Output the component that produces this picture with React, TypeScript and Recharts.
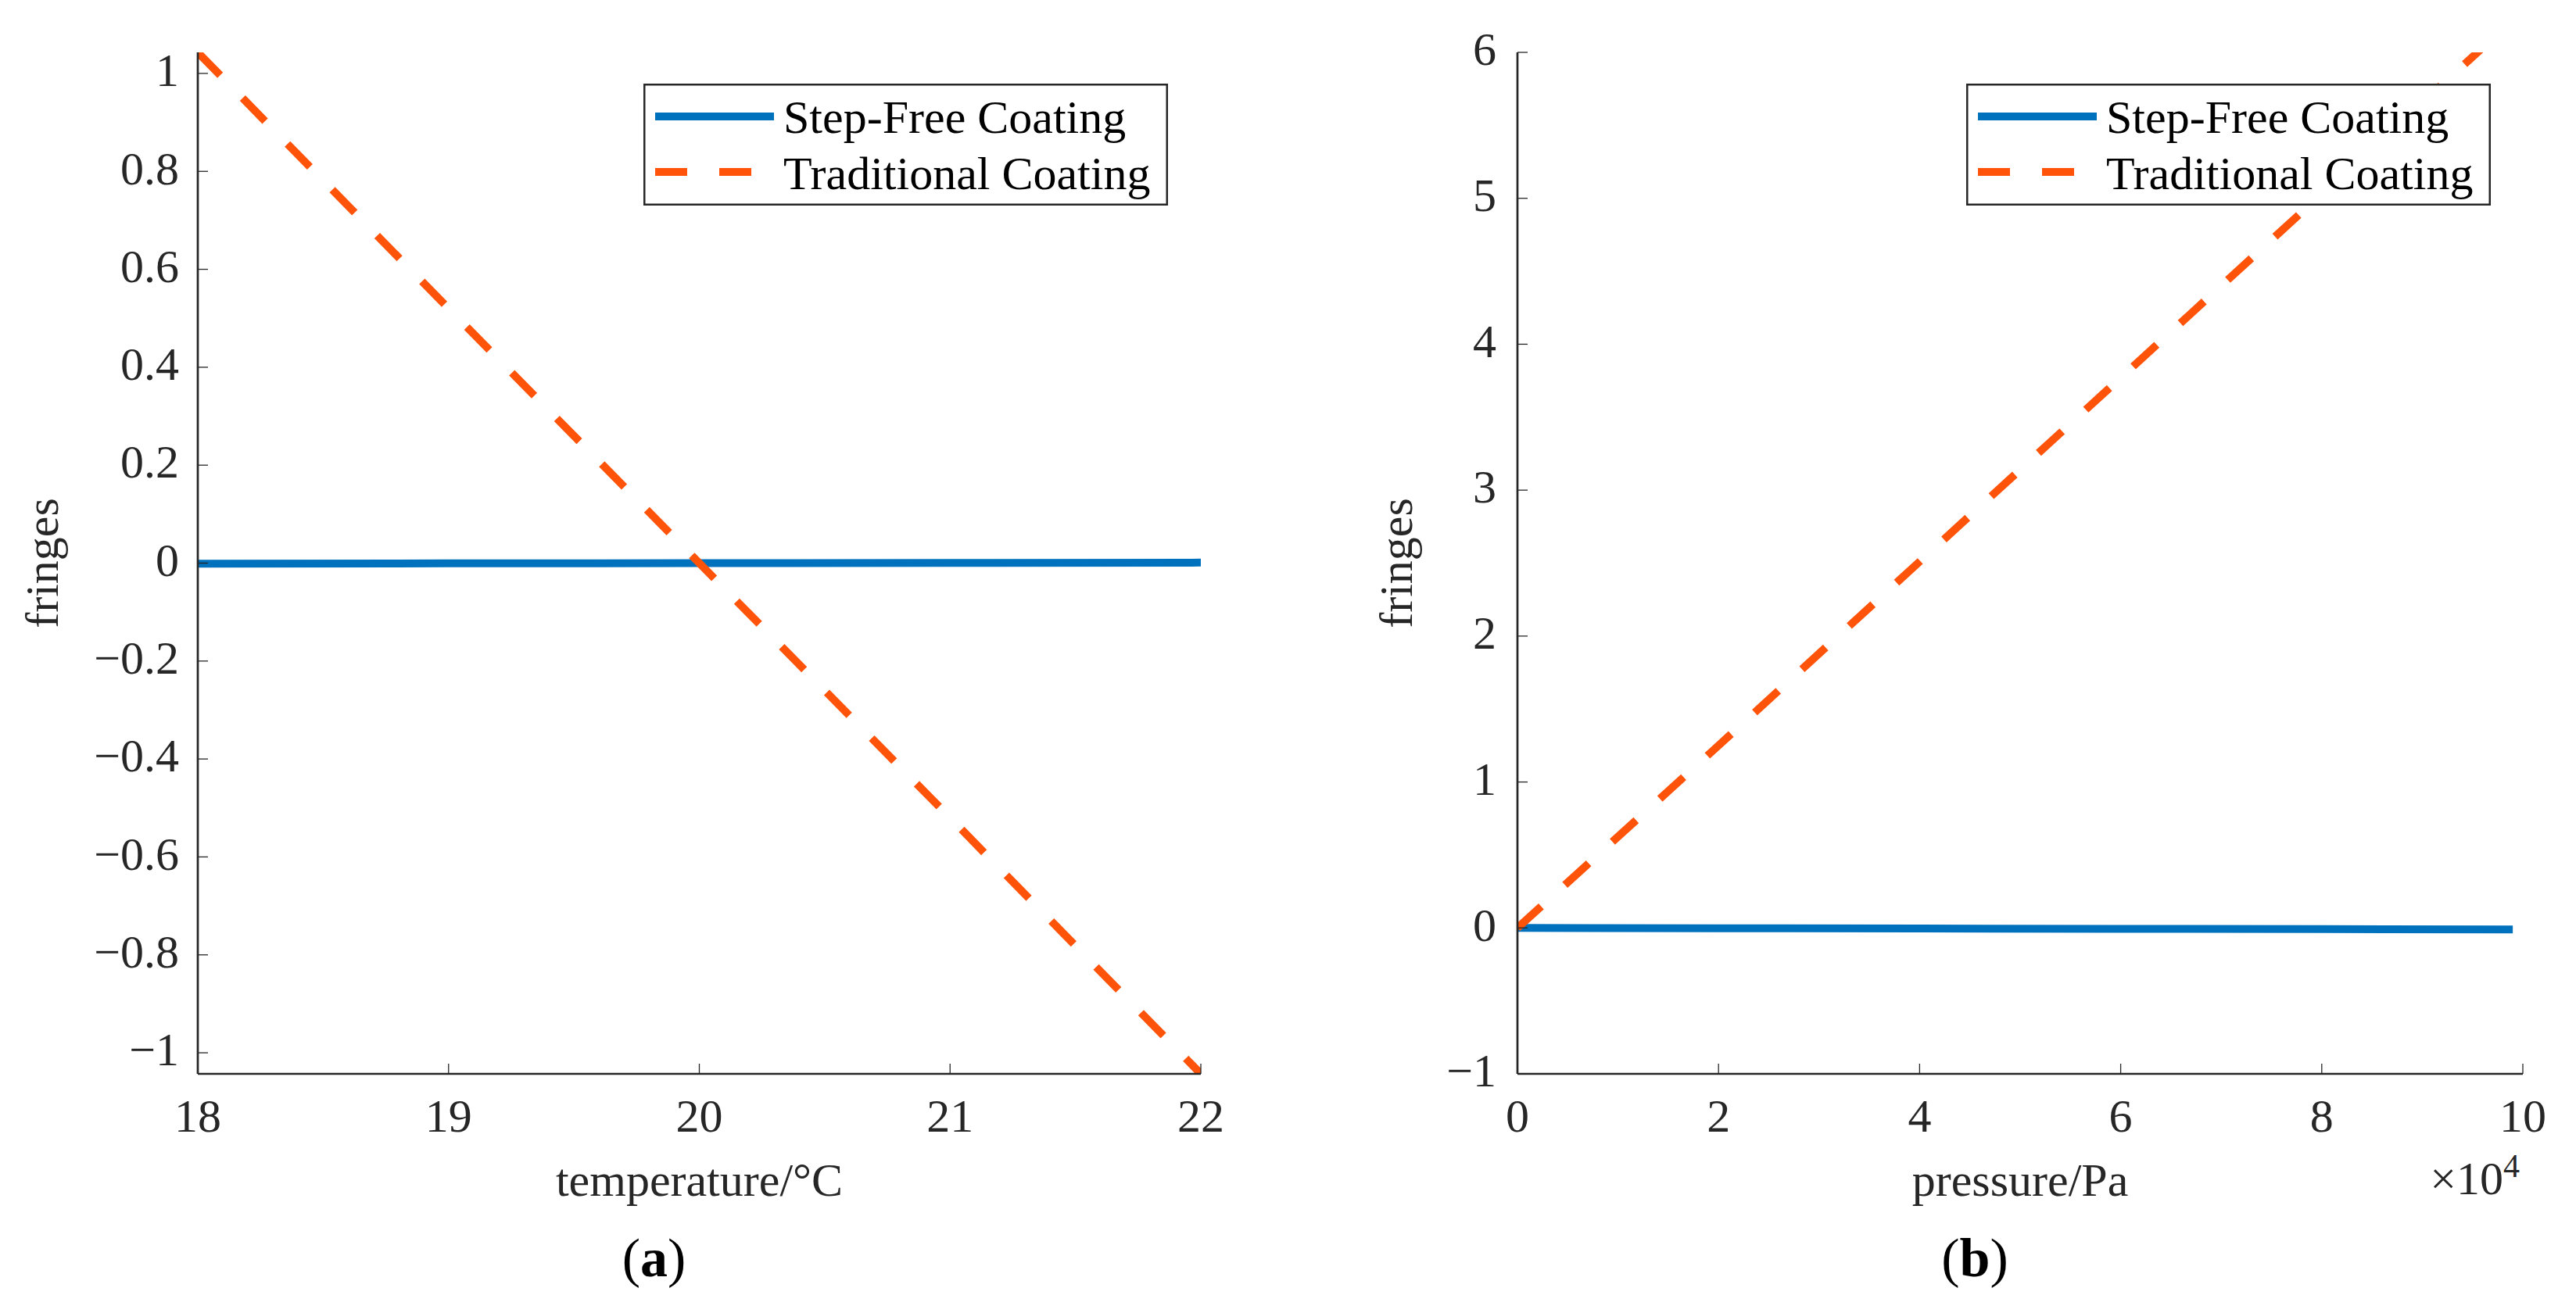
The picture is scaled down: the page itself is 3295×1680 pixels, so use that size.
import React from 'react';
import { LineChart, Line, XAxis, YAxis, Legend, Label } from 'recharts';

// panel (a): fringes vs temperature
const temperature = [18, 19, 20, 21, 22];
const stepFreeVsTemp = [-0.001, -0.0005, 0, 0.0005, 0.001];
const traditionalVsTemp = [1.043, 0.52, 0, -0.52, -1.043];

// panel (b): fringes vs pressure (x in units of 1e4 Pa)
const pressure = [0, 2, 4, 6, 8, 9.9];
const stepFreeVsPressure = [0, -0.002, -0.004, -0.006, -0.008, -0.01];
const traditionalVsPressure = [0, 1.25, 2.51, 3.77, 5.03, 6.22];

const tempTicks = [18, 19, 20, 21, 22];
const fringeTicksA = [-1, -0.8, -0.6, -0.4, -0.2, 0, 0.2, 0.4, 0.6, 0.8, 1];
const pressureTicks = [0, 2, 4, 6, 8, 10];
const fringeTicksB = [-1, 0, 1, 2, 3, 4, 5, 6];

const seriesNames = ['Step-Free Coating', 'Traditional Coating'];

const FONT = '"Liberation Serif", "Times New Roman", serif';
const INK = '#262626';
const BLUE = '#0072BD';
const ORANGE = '#FF530A';
const DASH = '41 41';
const H = 1680;

const fmt = (v: number) => (v < 0 ? '\u2212' + Math.abs(v) : String(v));

type Row = { x: number; stepFree: number; traditional: number };

const toRows = (xs: number[], a: number[], b: number[]): Row[] =>
  xs.map((x, i) => ({ x, stepFree: a[i], traditional: b[i] }));

function LegendBox() {
  return (
    <svg width={671} height={156} style={{ display: 'block' }}>
      <rect x={1.25} y={1.25} width={668.5} height={153.5} fill="#fff" stroke={INK} strokeWidth={2.5} />
      <line x1={15} x2={167} y1={42} y2={42} stroke={BLUE} strokeWidth={10} />
      <line x1={15} x2={167} y1={113} y2={113} stroke={ORANGE} strokeWidth={10} strokeDasharray={DASH} />
      <text x={179} y={63} fontSize={60} fontFamily={FONT} fill="#000">{seriesNames[0]}</text>
      <text x={179} y={135} fontSize={60} fontFamily={FONT} fill="#000">{seriesNames[1]}</text>
    </svg>
  );
}

type PanelProps = {
  left: number;
  width: number;
  yAxisWidth: number;
  marginRight: number;
  rows: Row[];
  xDomain: [number, number];
  xTicks: number[];
  yDomain: [number, number];
  yTicks: number[];
  xTitle: string;
  tag: string;
  yTickMargin: number;
  yTitleGap: number;
  legendLeft: number;
  exponent?: string;
};

function Panel(p: PanelProps) {
  const tickStyle = { fill: INK, fontSize: 60, fontFamily: FONT };
  const tickLine = { stroke: INK, strokeWidth: 1.3 };
  const axisLine = { stroke: INK, strokeWidth: 2.7 };
  return (
    <div style={{ position: 'absolute', left: p.left, top: 0, width: p.width, height: H }}>
      <LineChart
        width={p.width}
        height={H}
        data={p.rows}
        margin={{ top: 67, right: p.marginRight, bottom: 146, left: 0 }}
      >
        <XAxis
          xAxisId="b"
          dataKey="x"
          type="number"
          domain={p.xDomain}
          ticks={p.xTicks}
          interval={0}
          allowDataOverflow
          height={160}
          tickSize={-13}
          tickMargin={44}
          tick={tickStyle}
          tickLine={tickLine}
          axisLine={axisLine}
          tickFormatter={fmt}
        >
          <Label
            content={(lp: any) => {
              const vb = lp.viewBox;
              const cx = vb.x + vb.width / 2;
              return (
                <g>
                  <text x={cx} y={vb.y + 156} textAnchor="middle" fontSize={60} fontFamily={FONT} fill={INK}>
                    {p.xTitle}
                  </text>
                  <text x={cx - 58} y={vb.y + 259} textAnchor="middle" fontSize={70} fontFamily={FONT} fill="#000">
                    (<tspan fontWeight="bold">{p.tag}</tspan>)
                  </text>
                  {p.exponent ? (
                    <text x={vb.x + vb.width - 4} y={vb.y + 154} textAnchor="end" fontSize={60} fontFamily={FONT} fill={INK}>
                      {'\u00d710'}
                      <tspan dy={-22} fontSize={42}>{p.exponent}</tspan>
                    </text>
                  ) : null}
                </g>
              );
            }}
          />
        </XAxis>
        <XAxis
          xAxisId="t"
          orientation="top"
          mirror
          dataKey="x"
          type="number"
          domain={p.xDomain}
          ticks={p.xTicks}
          interval={0}
          allowDataOverflow
          height={0}
          tick={false}
          tickSize={13}
          tickLine={tickLine}
          axisLine={axisLine}
        />
        <YAxis
          yAxisId="l"
          type="number"
          domain={p.yDomain}
          ticks={p.yTicks}
          interval={0}
          allowDataOverflow
          width={p.yAxisWidth}
          tickSize={-13}
          tickMargin={p.yTickMargin}
          tick={{ ...tickStyle, dy: -5 }}
          tickLine={tickLine}
          axisLine={axisLine}
          tickFormatter={fmt}
        >
          <Label
            content={(lp: any) => {
              const vb = lp.viewBox;
              const x = vb.x + vb.width - p.yTitleGap;
              const y = vb.y + vb.height / 2;
              return (
                <text
                  x={x}
                  y={y}
                  transform={`rotate(-90, ${x}, ${y})`}
                  textAnchor="middle"
                  fontSize={60}
                  fontFamily={FONT}
                  fill={INK}
                >
                  fringes
                </text>
              );
            }}
          />
        </YAxis>
        <YAxis
          yAxisId="r"
          orientation="right"
          mirror
          type="number"
          domain={p.yDomain}
          ticks={p.yTicks}
          interval={0}
          allowDataOverflow
          width={0}
          tick={false}
          tickSize={13}
          tickLine={tickLine}
          axisLine={axisLine}
        />
        <Legend
          layout="vertical"
          align="center"
          verticalAlign="middle"
          wrapperStyle={{ left: p.legendLeft, top: 107, width: 671, height: 156 }}
          content={() => <LegendBox />}
        />
        <Line
          xAxisId="b"
          yAxisId="l"
          dataKey="stepFree"
          name={seriesNames[0]}
          stroke={BLUE}
          strokeWidth={10}
          dot={false}
          activeDot={false}
          isAnimationActive={false}
        />
        <Line
          xAxisId="b"
          yAxisId="l"
          dataKey="traditional"
          name={seriesNames[1]}
          stroke={ORANGE}
          strokeWidth={10}
          strokeDasharray={DASH}
          dot={false}
          activeDot={false}
          isAnimationActive={false}
        />
      </LineChart>
    </div>
  );
}

export default function App() {
  return (
    <div style={{ position: 'absolute', left: 0, top: 0, width: 3295, height: H, background: '#fff' }}>
      <Panel
        left={0}
        width={1650}
        yAxisWidth={253}
        marginRight={114}
        rows={toRows(temperature, stepFreeVsTemp, traditionalVsTemp)}
        xDomain={[18, 22]}
        xTicks={tempTicks}
        yDomain={[-1.043, 1.043]}
        yTicks={fringeTicksA}
        xTitle={'temperature/\u00b0C'}
        tag="a"
        yTickMargin={37}
        yTitleGap={179}
        legendLeft={823}
      />
      <Panel
        left={1650}
        width={1645}
        yAxisWidth={291}
        marginRight={68}
        rows={toRows(pressure, stepFreeVsPressure, traditionalVsPressure)}
        xDomain={[0, 10]}
        xTicks={pressureTicks}
        yDomain={[-1, 6]}
        yTicks={fringeTicksB}
        xTitle="pressure/Pa"
        tag="b"
        yTickMargin={40}
        yTitleGap={135}
        legendLeft={865}
        exponent="4"
      />
    </div>
  );
}
